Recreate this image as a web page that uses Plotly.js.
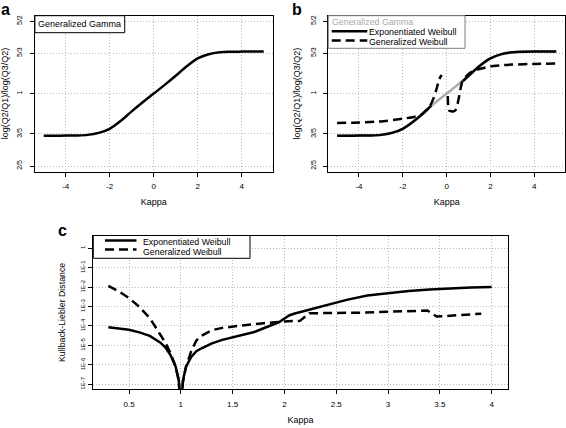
<!DOCTYPE html>
<html>
<head>
<meta charset="utf-8">
<script src="https://cdn.plot.ly/plotly-3.0.1.min.js"></script>
<style>html,body{margin:0;padding:0;background:#fff;}#chart{width:566px;height:428px;}</style>
</head>
<body>
<div id="chart"></div>
<script>
// ---------- Data ----------
// Panels a & b: quantile-ratio log(Q2/Q1)/log(Q3/Q2) vs Kappa
const kappaGG = [-5, -4.5, -4, -3.5, -3, -2.5, -2, -1.5, -1, -0.5, 0, 0.5, 1, 1.5, 2, 2.5, 3, 3.5, 4, 4.5, 5];
const ratioGG = [0.5874, 0.5874, 0.5880, 0.5892, 0.5933, 0.6084, 0.6408, 0.7082, 0.7985, 0.8958, 1.0, 1.1163, 1.2523, 1.4120, 1.5605, 1.6438, 1.6854, 1.6973, 1.7007, 1.7024, 1.7024];

const kappaEW = [-5, -4.5, -4, -3.5, -3, -2.5, -2, -1.5, -1, -0.7, null, 0.74, 1, 1.5, 2, 2.5, 3, 3.5, 4, 4.5, 5];
const ratioEW = [0.5874, 0.5874, 0.5880, 0.5892, 0.5933, 0.6084, 0.6408, 0.7047, 0.7906, 0.8607, null, 1.1688, 1.2523, 1.4191, 1.5605, 1.6487, 1.6871, 1.6989, 1.7024, 1.7041, 1.7041];

const kappaGW = [-5, -4, -3, -2, -1.5, -1.15, -0.9, -0.75, -0.6, -0.47, -0.35, -0.27, -0.22, null,
                 0.05, 0.07, 0.12, 0.3, 0.4, 0.48, 0.56, 0.64, 0.72, 0.9, 1.1, 1.4, 2, 2.5, 3, 4, 5];
const ratioGW = [0.6900, 0.6942, 0.7033, 0.7276, 0.7445, 0.7664, 0.8187, 0.8607, 0.9418, 1.0513, 1.1853, 1.2461, 1.2649, null,
                 0.9704, 0.8607, 0.8065, 0.7985, 0.8106, 0.8607, 0.9512, 1.0725, 1.1735, 1.2461, 1.3100, 1.3566, 1.4120, 1.4305, 1.4434, 1.4565, 1.4623];

// Panel c: Kullback-Liebler distance vs Kappa
const kappaKL_EW = [0.3, 0.4, 0.5, 0.6, 0.7, 0.8, 0.85, 0.9, 0.95, 0.98, 1.0, 1.02, 1.05, 1.1, 1.15, 1.2, 1.3, 1.4, 1.5, 1.6, 1.7, 1.8, 1.9, 1.95, 2.0, 2.05, 2.1, 2.2, 2.4, 2.6, 2.8, 3.0, 3.2, 3.4, 3.6, 3.8, 4.0];
const klEW = [8.51e-5, 7.41e-5, 6.31e-5, 4.68e-5, 3.09e-5, 1.41e-5, 7.94e-6, 3.16e-6, 7.94e-7, 1.58e-7, 3.16e-9, 1.58e-7, 7.94e-7, 2.51e-6, 5.01e-6, 7.08e-6, 1.26e-5, 1.91e-5, 2.63e-5, 3.47e-5, 4.68e-5, 7.59e-5, 1.17e-4, 1.58e-4, 2.40e-4, 3.55e-4, 4.37e-4, 6.03e-4, 1.17e-3, 2.19e-3, 3.63e-3, 4.90e-3, 6.17e-3, 7.41e-3, 8.51e-3, 9.33e-3, 1.0e-2];

const kappaKL_GW = [0.3, 0.4, 0.5, 0.6, 0.7, 0.8, 0.85, 0.9, 0.95, 0.98, 1.0, 1.02, 1.05, 1.1, 1.15, 1.2, 1.3, 1.4, 1.5, 1.6, 1.7, 1.8, 1.9, 2.0, 2.1, 2.15, 2.24, 2.5, 2.75, 3.0, 3.2, 3.38, 3.47, 3.7, 3.9];
const klGW = [1.148e-2, 6.03e-3, 2.69e-3, 9.55e-4, 2.51e-4, 3.98e-5, 1.41e-5, 3.98e-6, 7.94e-7, 1.58e-7, 3.16e-9, 1.26e-7, 7.94e-7, 5.01e-6, 1.78e-5, 3.16e-5, 6.03e-5, 7.94e-5, 9.33e-5, 1.10e-4, 1.23e-4, 1.38e-4, 1.55e-4, 1.70e-4, 1.78e-4, 1.82e-4, 4.47e-4, 4.47e-4, 4.79e-4, 5.37e-4, 5.75e-4, 6.17e-4, 3.02e-4, 3.55e-4, 4.27e-4];

// Tick labels and names
const ratioTickVals = [0.4, 0.6, 1, 5/3, 2.5];
const ratioTickText = ['2/5', '3/5', '1', '5/3', '5/2'];
const kappaTicksAB = [-4, -2, 0, 2, 4];
const kappaTicksC = [0.5, 1, 1.5, 2, 2.5, 3, 3.5, 4];
const kappaTickTextC = ['0.5', '1', '1.5', '2', '2.5', '3', '3.5', '4'];
const klTickVals = [1, 1e-1, 1e-2, 1e-3, 1e-4, 1e-5, 1e-6, 1e-7];
const klTickText = ['1', '1E-1', '1E-2', '1E-3', '1E-4', '1E-5', '1E-6', '1E-7'];
const seriesNames = ['Generalized Gamma', 'Exponentiated Weibull', 'Generalized Weibull'];
const panelLetters = ['a', 'b', 'c'];
const xTitle = 'Kappa';
const yTitleAB = 'log(Q2/Q1)/log(Q3/Q2)';
const yTitleC = 'Kullback-Liebler Distance';

// ---------- Layout helpers ----------
const W = 566, H = 428;
const px = v => v / W;
const py = v => 1 - v / H;
const FONT = 'Liberation Sans, Arial, Helvetica, sans-serif';
const DASH = '9px,5px';

const lineBlack = {color: '#000', width: 2.5};

const traces = [
  {x: kappaGG, y: ratioGG, xaxis: 'x', yaxis: 'y', mode: 'lines', line: Object.assign({shape: 'spline', smoothing: 0.8}, lineBlack), name: seriesNames[0], showlegend: false, hoverinfo: 'skip'},
  {x: kappaGG, y: ratioGG, xaxis: 'x2', yaxis: 'y2', mode: 'lines', line: {color: '#aaaaaa', width: 2.5, shape: 'spline', smoothing: 0.8}, name: seriesNames[0], showlegend: false, hoverinfo: 'skip'},
  {x: kappaEW, y: ratioEW, xaxis: 'x2', yaxis: 'y2', mode: 'lines', connectgaps: false, line: Object.assign({shape: 'spline', smoothing: 0.8}, lineBlack), name: seriesNames[1], showlegend: false, hoverinfo: 'skip'},
  {x: kappaGW, y: ratioGW, xaxis: 'x2', yaxis: 'y2', mode: 'lines', connectgaps: false, line: {color: '#000', width: 2.5, dash: DASH, shape: 'spline', smoothing: 0.5}, name: seriesNames[2], showlegend: false, hoverinfo: 'skip'},
  {x: kappaKL_EW, y: klEW, xaxis: 'x3', yaxis: 'y3', mode: 'lines', line: lineBlack, name: seriesNames[1], showlegend: false, hoverinfo: 'skip'},
  {x: kappaKL_GW, y: klGW, xaxis: 'x3', yaxis: 'y3', mode: 'lines', line: {color: '#000', width: 2.5, dash: DASH}, name: seriesNames[2], showlegend: false, hoverinfo: 'skip'}
];

const titleFont = {family: FONT, size: 9, color: '#000'};
function axisBase() {
  return {
    showline: true, mirror: true, linecolor: '#000', linewidth: 1,
    showgrid: true, gridcolor: '#b8b8b8', griddash: '1px,2px', gridwidth: 1,
    zeroline: false, ticks: 'outside', ticklen: 4, tickcolor: '#000', tickwidth: 1,
    fixedrange: true
  };
}
function xAx(domain, range, tickvals, ticktext, anchor) {
  return Object.assign(axisBase(), {
    domain: domain, range: range, tickmode: 'array', tickvals: tickvals, ticktext: ticktext,
    anchor: anchor, ticklabelstandoff: 3, tickfont: {family: FONT, size: 8, color: '#000'},
    title: {text: xTitle, font: titleFont, standoff: 8}
  });
}
function yAx(domain, range, tickvals, ticktext, anchor, title, tfont, tsize, standoff, tstand) {
  return Object.assign(axisBase(), {
    type: 'log', domain: domain, range: range, tickmode: 'array', tickvals: tickvals, ticktext: ticktext,
    anchor: anchor, tickangle: -90, ticklabelstandoff: tstand, tickfont: {family: FONT, size: tfont, color: '#000'},
    title: {text: title, font: {family: FONT, size: tsize, color: '#000'}, standoff: standoff}
  });
}

const domYab = [py(171.5), py(15.7)];
const domYc = [py(389.3), py(235.5)];

const legendFont = 8.8;
const layout = {
  width: W, height: H,
  margin: {l: 0, r: 0, t: 0, b: 0, pad: 0},
  paper_bgcolor: '#fff', plot_bgcolor: '#fff',
  font: {family: FONT, size: 9, color: '#000'},
  showlegend: false,
  xaxis: xAx([px(34.9), px(272.5)], [-5.4, 5.4], kappaTicksAB, kappaTicksAB.map(String), 'y'),
  yaxis: yAx(domYab, [-0.428, 0.428], ratioTickVals, ratioTickText, 'x', yTitleAB, 7, 9, 7, 5),
  xaxis2: xAx([px(328.3), px(565)], [-5.4, 5.4], kappaTicksAB, kappaTicksAB.map(String), 'y2'),
  yaxis2: yAx(domYab, [-0.428, 0.428], ratioTickVals, ratioTickText, 'x2', yTitleAB, 7, 9, 7, 5),
  xaxis3: xAx([px(93.3), px(507.7)], [0.155, 4.155], kappaTicksC, kappaTickTextC, 'y3'),
  yaxis3: yAx(domYc, [-7.26, 0.65], klTickVals, klTickText, 'x3', yTitleC, 6, 8.8, 12, 1),
  shapes: [
    // legend boxes
    {type: 'rect', xref: 'paper', yref: 'paper', x0: px(34.9), x1: px(124.7), y0: py(32.7), y1: py(15.7), line: {color: '#000', width: 1}, fillcolor: '#fff', layer: 'above'},
    {type: 'rect', xref: 'paper', yref: 'paper', x0: px(328.3), x1: px(465), y0: py(48.3), y1: py(15.7), line: {color: '#808080', width: 1}, fillcolor: '#fff', layer: 'above'},
    {type: 'rect', xref: 'paper', yref: 'paper', x0: px(93.3), x1: px(250), y0: py(258.3), y1: py(235.5), line: {color: '#000', width: 1}, fillcolor: '#fff', layer: 'above'},
    // legend line samples
    {type: 'line', xref: 'paper', yref: 'paper', x0: px(331.7), x1: px(367.3), y0: py(31.3), y1: py(31.3), line: {color: '#000', width: 2.5}, layer: 'above'},
    {type: 'line', xref: 'paper', yref: 'paper', x0: px(331.7), x1: px(367.3), y0: py(40.5), y1: py(40.5), line: {color: '#000', width: 2.5, dash: DASH}, layer: 'above'},
    {type: 'line', xref: 'paper', yref: 'paper', x0: px(105), x1: px(136.5), y0: py(240.5), y1: py(240.5), line: {color: '#000', width: 2.5}, layer: 'above'},
    {type: 'line', xref: 'paper', yref: 'paper', x0: px(105), x1: px(136.5), y0: py(249.5), y1: py(249.5), line: {color: '#000', width: 2.5, dash: DASH}, layer: 'above'}
  ],
  annotations: [
    // panel letters
    {text: '<b>' + panelLetters[0] + '</b>', xref: 'paper', yref: 'paper', x: px(5), y: py(9), xanchor: 'center', yanchor: 'middle', showarrow: false, font: {family: FONT, size: 16, color: '#000'}},
    {text: '<b>' + panelLetters[1] + '</b>', xref: 'paper', yref: 'paper', x: px(297), y: py(9), xanchor: 'center', yanchor: 'middle', showarrow: false, font: {family: FONT, size: 16, color: '#000'}},
    {text: '<b>' + panelLetters[2] + '</b>', xref: 'paper', yref: 'paper', x: px(62), y: py(230), xanchor: 'center', yanchor: 'middle', showarrow: false, font: {family: FONT, size: 16, color: '#000'}},
    // legend texts
    {text: seriesNames[0], xref: 'paper', yref: 'paper', x: px(36.5), y: py(24.2), xanchor: 'left', yanchor: 'middle', showarrow: false, borderpad: 0, font: {family: FONT, size: 9, color: '#000'}},
    {text: seriesNames[0], xref: 'paper', yref: 'paper', x: px(330.5), y: py(22), xanchor: 'left', yanchor: 'middle', showarrow: false, borderpad: 0, font: {family: FONT, size: legendFont, color: '#aaaaaa'}},
    {text: seriesNames[1], xref: 'paper', yref: 'paper', x: px(368), y: py(32), xanchor: 'left', yanchor: 'middle', showarrow: false, borderpad: 0, font: {family: FONT, size: legendFont, color: '#000'}},
    {text: seriesNames[2], xref: 'paper', yref: 'paper', x: px(368), y: py(42), xanchor: 'left', yanchor: 'middle', showarrow: false, borderpad: 0, font: {family: FONT, size: legendFont, color: '#000'}},
    {text: seriesNames[1], xref: 'paper', yref: 'paper', x: px(142), y: py(242), xanchor: 'left', yanchor: 'middle', showarrow: false, borderpad: 0, font: {family: FONT, size: legendFont, color: '#000'}},
    {text: seriesNames[2], xref: 'paper', yref: 'paper', x: px(142), y: py(252), xanchor: 'left', yanchor: 'middle', showarrow: false, borderpad: 0, font: {family: FONT, size: legendFont, color: '#000'}}
  ]
};

Plotly.newPlot('chart', traces, layout, {staticPlot: true, displayModeBar: false});
</script>
</body>
</html>
